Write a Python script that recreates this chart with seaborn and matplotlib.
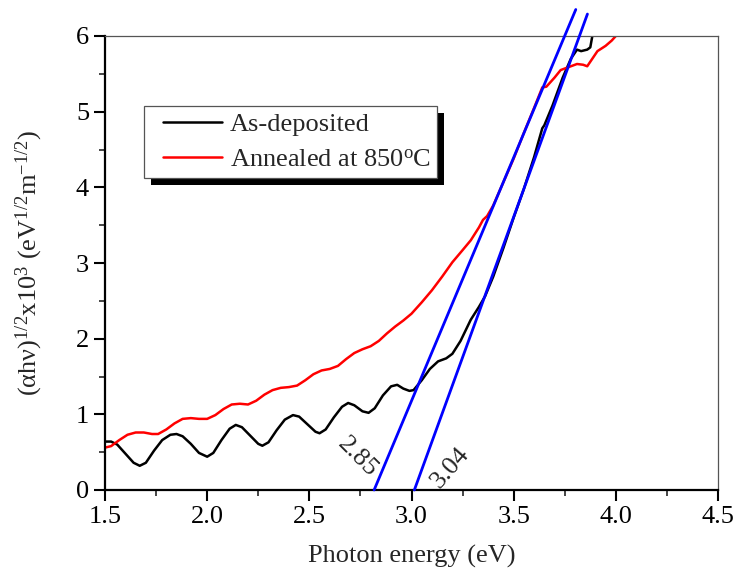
import numpy as np
import pandas as pd
import matplotlib
matplotlib.use("Agg")
import matplotlib.pyplot as plt
import seaborn as sns
from matplotlib.patches import Rectangle
from matplotlib.lines import Line2D
from matplotlib.legend_handler import HandlerBase

# ---- data ----
as_dep_x = [1.50, 1.53, 1.56, 1.60, 1.64, 1.67, 1.70, 1.74, 1.78, 1.82, 1.85, 1.88, 1.92, 1.96,
            2.00, 2.03, 2.07, 2.11, 2.14, 2.17, 2.21, 2.25, 2.27, 2.30, 2.34, 2.38, 2.42, 2.45,
            2.49, 2.53, 2.55, 2.58, 2.62, 2.66, 2.69, 2.72, 2.76, 2.79, 2.82, 2.86, 2.90, 2.93,
            2.96, 2.99, 3.01, 3.05, 3.09, 3.13, 3.17, 3.20, 3.24, 3.29, 3.33, 3.36, 3.40, 3.45,
            3.50, 3.55, 3.60, 3.64, 3.65, 3.69, 3.74, 3.78, 3.81, 3.83, 3.86, 3.875, 3.885, 3.89]
as_dep_y = [0.64, 0.64, 0.60, 0.48, 0.36, 0.32, 0.36, 0.52, 0.66, 0.73, 0.74, 0.71, 0.61, 0.49,
            0.44, 0.49, 0.66, 0.81, 0.86, 0.83, 0.72, 0.61, 0.585, 0.63, 0.79, 0.93, 0.99, 0.97,
            0.87, 0.77, 0.75, 0.80, 0.96, 1.10, 1.15, 1.12, 1.04, 1.02, 1.08, 1.25, 1.37, 1.39,
            1.34, 1.31, 1.32, 1.45, 1.60, 1.70, 1.74, 1.80, 1.97, 2.25, 2.42, 2.56, 2.82, 3.20,
            3.60, 3.98, 4.40, 4.78, 4.82, 5.08, 5.45, 5.70, 5.82, 5.80, 5.82, 5.85, 6.00, 6.05]

annealed_x = [1.50, 1.53, 1.57, 1.61, 1.65, 1.69, 1.73, 1.76, 1.80, 1.84, 1.88, 1.92, 1.96, 2.00,
              2.04, 2.08, 2.12, 2.16, 2.20, 2.24, 2.28, 2.32, 2.36, 2.40, 2.44, 2.48, 2.52, 2.56,
              2.60, 2.64, 2.68, 2.72, 2.76, 2.80, 2.84, 2.88, 2.92, 2.96, 3.00, 3.05, 3.10, 3.15,
              3.20, 3.25, 3.29, 3.33, 3.35, 3.37, 3.40, 3.45, 3.50, 3.55, 3.60, 3.64, 3.66, 3.70,
              3.73, 3.77, 3.81, 3.84, 3.86, 3.88, 3.91, 3.95, 3.98, 4.00, 4.01]
annealed_y = [0.56, 0.58, 0.66, 0.73, 0.76, 0.76, 0.74, 0.74, 0.80, 0.88, 0.94, 0.95, 0.94, 0.94,
              0.99, 1.07, 1.13, 1.14, 1.13, 1.18, 1.26, 1.32, 1.35, 1.36, 1.38, 1.45, 1.53, 1.58,
              1.60, 1.64, 1.73, 1.81, 1.86, 1.90, 1.97, 2.07, 2.16, 2.24, 2.33, 2.48, 2.64, 2.82,
              3.01, 3.17, 3.30, 3.47, 3.57, 3.62, 3.76, 4.07, 4.38, 4.72, 5.05, 5.32, 5.33, 5.45,
              5.55, 5.59, 5.63, 5.62, 5.60, 5.68, 5.80, 5.87, 5.94, 6.00, 6.03]

fit1_x = [2.817, 3.804]
fit1_y = [0.0, 6.35]
fit2_x = [3.014, 3.861]
fit2_y = [0.0, 6.29]

series_names = ["As-deposited", "Annealed at 850$^{\\mathrm{o}}$C"]
gap_labels = ["2.85", "3.04"]
x_ticks = [1.5, 2.0, 2.5, 3.0, 3.5, 4.0, 4.5]
y_ticks = [0, 1, 2, 3, 4, 5, 6]

df = pd.concat([
    pd.DataFrame({"E": as_dep_x, "F": as_dep_y, "sample": series_names[0]}),
    pd.DataFrame({"E": annealed_x, "F": annealed_y, "sample": series_names[1]}),
])

# ---- style ----
sns.set_theme(style="ticks")
plt.rcParams["font.family"] = ["Liberation Serif", "DejaVu Serif"]
plt.rcParams["mathtext.fontset"] = "custom"
plt.rcParams["mathtext.rm"] = "Liberation Serif"
plt.rcParams["mathtext.it"] = "Liberation Serif:italic"
plt.rcParams["font.size"] = 19

fig = plt.figure(figsize=(7.35, 5.79), dpi=100)
ax = fig.add_axes([105 / 735, 89 / 579, 613 / 735, 454 / 579])

sns.lineplot(data=df, x="E", y="F", hue="sample", sort=False, estimator=None,
             palette={series_names[0]: "black", series_names[1]: "#ff0000"},
             linewidth=1.8, ax=ax, legend=False)

ax.plot(fit1_x, fit1_y, color="#0000ff", lw=2, clip_on=False, zorder=3)
ax.plot(fit2_x, fit2_y, color="#0000ff", lw=2, clip_on=False, zorder=3)

ax.text(2.735, 0.43, gap_labels[0], rotation=-45, ha="center", va="center", fontsize=19)
ax.text(3.189, 0.30, gap_labels[1], rotation=49, ha="center", va="center", fontsize=19)

ax.set_xlim(1.5, 4.5)
ax.set_ylim(0, 6)
ax.set_xticks(x_ticks)
ax.set_xticklabels([f"{t:.1f}" for t in x_ticks])
ax.set_yticks(y_ticks)
ax.set_xticks(np.arange(1.75, 4.5, 0.5), minor=True)
ax.set_yticks(np.arange(0.5, 6, 1.0), minor=True)
ax.tick_params(axis="both", which="major", direction="out", length=8, width=1.5,
               labelsize=19, colors="black", top=False, right=False)
ax.tick_params(axis="both", which="minor", direction="out", length=4, width=1.2,
               top=False, right=False)

for side in ["left", "bottom"]:
    ax.spines[side].set_color("black")
    ax.spines[side].set_linewidth(1.6)
for side in ["top", "right"]:
    ax.spines[side].set_visible(True)
    ax.spines[side].set_color("#555555")
    ax.spines[side].set_linewidth(0.9)

ax.set_xlabel("Photon energy (eV)", fontsize=19, labelpad=12)
ax.set_ylabel("(αhν)$^{1/2}$x10$^{3}$ (eV$^{1/2}$m$^{-1/2}$)", fontsize=19, labelpad=22)


class OffsetLineHandler(HandlerBase):
    """Legend line with some blank space before it."""
    def create_artists(self, legend, orig_handle, xdescent, ydescent, width, height,
                       fontsize, trans):
        off = 0.17 * width
        y = height / 2.0 - ydescent
        line = Line2D([-xdescent + off, -xdescent + width], [y, y],
                      color=orig_handle.get_color(), lw=orig_handle.get_linewidth())
        line.set_transform(trans)
        return [line]


handles = [Line2D([], [], color="black", lw=1.8), Line2D([], [], color="#ff0000", lw=1.8)]
leg = ax.legend(handles, series_names, loc="upper left", bbox_to_anchor=(0.0636, 0.846),
                borderaxespad=0, frameon=True, fancybox=False, framealpha=1,
                edgecolor="#555555", fontsize=19, handlelength=2.7, handletextpad=0.3,
                borderpad=0.25, labelspacing=0.45,
                handler_map={Line2D: OffsetLineHandler()})
leg.get_frame().set_linewidth(0.9)
leg.set_zorder(6)

fig.canvas.draw()
bb = leg.get_window_extent()
inv = ax.transAxes.inverted()
(x0, y0) = inv.transform((bb.x0 + 7, bb.y0 - 7))
(x1, y1) = inv.transform((bb.x1 + 7, bb.y1 - 7))
ax.add_patch(Rectangle((x0, y0), x1 - x0, y1 - y0, transform=ax.transAxes,
                       facecolor="black", edgecolor="none", clip_on=False, zorder=5))

fig.savefig("out.png", dpi=100, facecolor="white")
